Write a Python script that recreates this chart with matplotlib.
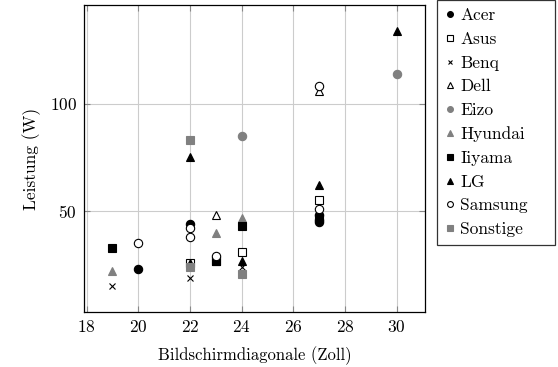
import numpy as np
import matplotlib
matplotlib.use('Agg')
import matplotlib.pyplot as plt

plt.rcParams['font.family'] = 'serif'
plt.rcParams['font.serif'] = ['cmr10']
plt.rcParams['mathtext.fontset'] = 'cm'
plt.rcParams['axes.formatter.use_mathtext'] = True

# data (Zoll, Watt) per Hersteller
acer_x = [20, 22, 27, 27, 27]
acer_y = [23, 44, 45, 46, 48]
asus_x = [22, 23, 24, 27]
asus_y = [26, 27, 31, 55]
benq_x = [19, 22, 24, 27]
benq_y = [15, 19, 24, 49]
dell_x = [23, 27]
dell_y = [48, 106]
eizo_x = [24, 30]
eizo_y = [85, 114]
hyundai_x = [19, 23, 24]
hyundai_y = [22, 40, 47]
iiyama_x = [19, 23, 24, 27]
iiyama_y = [33, 27, 43, 47]
lg_x = [22, 22, 23, 24, 27, 30]
lg_y = [75, 26, 28, 27, 62, 134]
samsung_x = [20, 22, 22, 23, 27, 27]
samsung_y = [35, 42, 38, 29, 108, 51]
sonstige_x = [22, 22, 24]
sonstige_y = [83, 24, 21]

gray = '#808080'
series = [
    ('Acer', acer_x, acer_y, 'o', 'black', 'black'),
    ('Asus', asus_x, asus_y, 's', 'white', 'black'),
    ('Benq', benq_x, benq_y, 'x', 'black', 'black'),
    ('Dell', dell_x, dell_y, '^', 'white', 'black'),
    ('Eizo', eizo_x, eizo_y, 'o', gray, gray),
    ('Hyundai', hyundai_x, hyundai_y, '^', gray, gray),
    ('Iiyama', iiyama_x, iiyama_y, 's', 'black', 'black'),
    ('LG', lg_x, lg_y, '^', 'black', 'black'),
    ('Samsung', samsung_x, samsung_y, 'o', 'white', 'black'),
    ('Sonstige', sonstige_x, sonstige_y, 's', gray, gray),
]

fig = plt.figure(figsize=(5.58, 3.67), dpi=100)
ax = fig.add_axes([84/558, 1-312/367, (425-84)/558, (312-5)/367])

for name, xs, ys, m, fc, ec in series:
    ms = 4.5 if m == 'x' else 6
    ax.plot(xs, ys, linestyle='none', marker=m, markersize=ms,
            markerfacecolor=fc, markeredgecolor=ec, markeredgewidth=0.8,
            label=name)

ax.set_xlim(17.9, 31.1)
ax.set_ylim(3.1, 145.9)
ax.set_xticks([18, 20, 22, 24, 26, 28, 30])
ax.set_yticks([50, 100])
ax.grid(True, color='#cccccc', linewidth=0.8)
ax.set_axisbelow(True)
ax.tick_params(direction='in', top=True, right=True, length=4,
               color='#888888', labelsize=12.5, pad=5)
for s in ax.spines.values():
    s.set_linewidth(0.9)
ax.set_xlabel('Bildschirmdiagonale (Zoll)', fontsize=12, labelpad=8)
ax.set_ylabel('Leistung (W)', fontsize=12.5, labelpad=6)

leg = fig.legend(loc='upper left',
                 bbox_to_anchor=(437/558, 1-4/367, 118/558, 0.01),
                 mode='expand',
                 borderaxespad=0, fancybox=False, edgecolor='black',
                 fontsize=12.5, handlelength=0.6, handletextpad=0.3,
                 labelspacing=0.48, borderpad=0.45, markerscale=0.7)
leg.get_frame().set_linewidth(0.9)

fig.savefig('out.png', dpi=100)
